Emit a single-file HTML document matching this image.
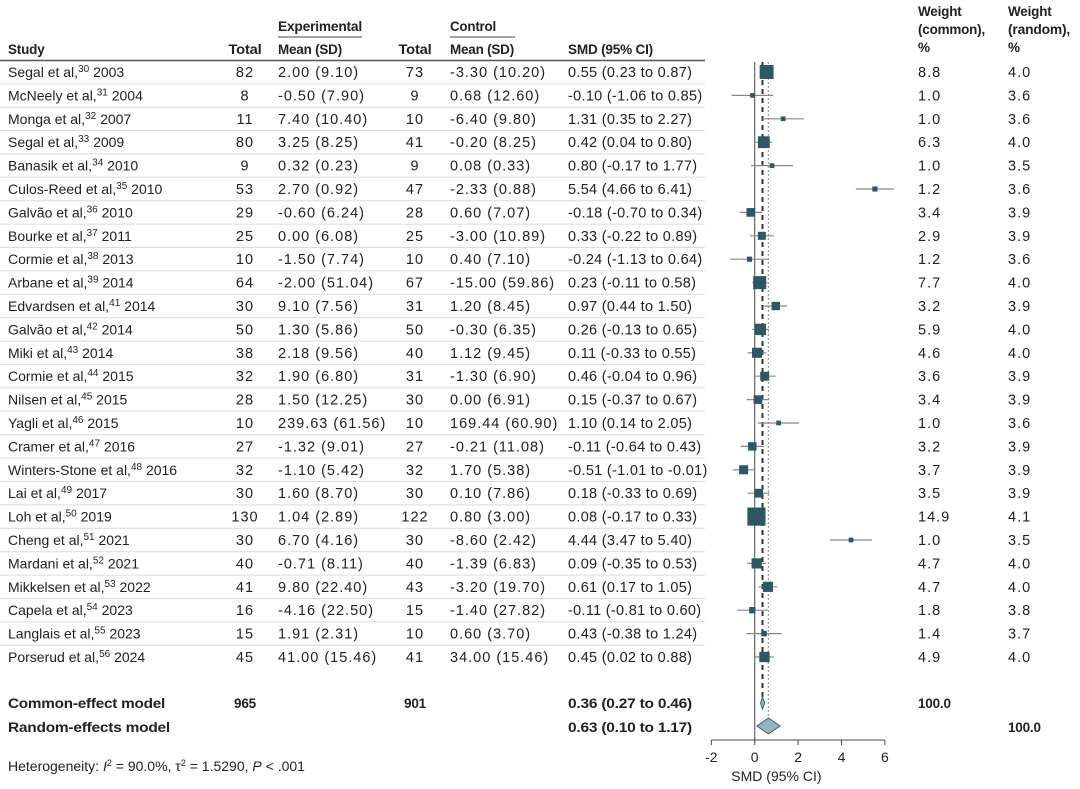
<!DOCTYPE html>
<html><head><meta charset="utf-8"><style>
html,body{margin:0;padding:0;background:#fff}
svg{display:block}
text{font-family:"Liberation Sans",sans-serif;font-size:14px;fill:#222}
.n{font-size:14.5px;letter-spacing:1px}
.s{font-size:14.5px;letter-spacing:0.3px}
.h{font-weight:bold;font-size:13.5px;letter-spacing:-0.2px}
</style></head><body>
<svg id="c" width="1080" height="789" viewBox="0 0 1080 789" xmlns="http://www.w3.org/2000/svg">
<g id="hdr">
<text x="278" y="31" class="h" textLength="84" lengthAdjust="spacingAndGlyphs">Experimental</text>
<line x1="278" y1="37" x2="362" y2="37" stroke="#444"/>
<text x="450" y="31" class="h" textLength="46" lengthAdjust="spacingAndGlyphs">Control</text>
<line x1="450" y1="37" x2="515" y2="37" stroke="#444"/>
<text x="8" y="54" class="h">Study</text>
<text x="245" y="54" class="h" text-anchor="middle" textLength="33" lengthAdjust="spacingAndGlyphs">Total</text>
<text x="278" y="54" class="h" textLength="64" lengthAdjust="spacingAndGlyphs">Mean (SD)</text>
<text x="415" y="54" class="h" text-anchor="middle" textLength="33" lengthAdjust="spacingAndGlyphs">Total</text>
<text x="450" y="54" class="h" textLength="64" lengthAdjust="spacingAndGlyphs">Mean (SD)</text>
<text x="568" y="54" class="h" textLength="85" lengthAdjust="spacingAndGlyphs">SMD (95% CI)</text>
<text x="918" y="16" class="h">Weight</text>
<text x="918" y="34" class="h" textLength="67" lengthAdjust="spacingAndGlyphs">(common),</text>
<text x="918" y="52" class="h">%</text>
<text x="1008" y="16" class="h">Weight</text>
<text x="1008" y="34" class="h" textLength="62" lengthAdjust="spacingAndGlyphs">(random),</text>
<text x="1008" y="52" class="h">%</text>
<line x1="0" y1="60.5" x2="705" y2="60.5" stroke="#555" stroke-width="1.5"/>
</g>
<g id="rows"></g>
<g id="plot"></g>
<text x="8" y="708" class="h" textLength="157" lengthAdjust="spacingAndGlyphs">Common-effect model</text>
<text x="245" y="708" class="h" text-anchor="middle">965</text>
<text x="415" y="708" class="h" text-anchor="middle">901</text>
<text x="568" y="708" class="h" textLength="124" lengthAdjust="spacingAndGlyphs">0.36 (0.27 to 0.46)</text>
<text x="918" y="708" class="h">100.0</text>
<text x="8" y="732" class="h" textLength="162" lengthAdjust="spacingAndGlyphs">Random-effects model</text>
<text x="568" y="732" class="h" textLength="124" lengthAdjust="spacingAndGlyphs">0.63 (0.10 to 1.17)</text>
<text x="1008" y="732" class="h">100.0</text>
<text x="8" y="771" font-size="13.5">Heterogeneity: <tspan font-style="italic">I</tspan><tspan dy="-5" font-size="9">2</tspan><tspan dy="5"> = 90.0%, τ</tspan><tspan dy="-5" font-size="9">2</tspan><tspan dy="5"> = 1.5290, </tspan><tspan font-style="italic">P</tspan> &lt; .001</text>
</svg>
<script>
const studies=["Segal et al,|30| 2003","McNeely et al,|31| 2004","Monga et al,|32| 2007","Segal et al,|33| 2009","Banasik et al,|34| 2010","Culos-Reed et al,|35| 2010","Galvão et al,|36| 2010","Bourke et al,|37| 2011","Cormie et al,|38| 2013","Arbane et al,|39| 2014","Edvardsen et al,|41| 2014","Galvão et al,|42| 2014","Miki et al,|43| 2014","Cormie et al,|44| 2015","Nilsen et al,|45| 2015","Yagli et al,|46| 2015","Cramer et al,|47| 2016","Winters-Stone et al,|48| 2016","Lai et al,|49| 2017","Loh et al,|50| 2019","Cheng et al,|51| 2021","Mardani et al,|52| 2021","Mikkelsen et al,|53| 2022","Capela et al,|54| 2023","Langlais et al,|55| 2023","Porserud et al,|56| 2024"];
const expN=[82,8,11,80,9,53,29,25,10,64,30,50,38,32,28,10,27,32,30,130,30,40,41,16,15,45];
const expMean=["2.00 (9.10)","-0.50 (7.90)","7.40 (10.40)","3.25 (8.25)","0.32 (0.23)","2.70 (0.92)","-0.60 (6.24)","0.00 (6.08)","-1.50 (7.74)","-2.00 (51.04)","9.10 (7.56)","1.30 (5.86)","2.18 (9.56)","1.90 (6.80)","1.50 (12.25)","239.63 (61.56)","-1.32 (9.01)","-1.10 (5.42)","1.60 (8.70)","1.04 (2.89)","6.70 (4.16)","-0.71 (8.11)","9.80 (22.40)","-4.16 (22.50)","1.91 (2.31)","41.00 (15.46)"];
const ctlN=[73,9,10,41,9,47,28,25,10,67,31,50,40,31,30,10,27,32,30,122,30,40,43,15,10,41];
const ctlMean=["-3.30 (10.20)","0.68 (12.60)","-6.40 (9.80)","-0.20 (8.25)","0.08 (0.33)","-2.33 (0.88)","0.60 (7.07)","-3.00 (10.89)","0.40 (7.10)","-15.00 (59.86)","1.20 (8.45)","-0.30 (6.35)","1.12 (9.45)","-1.30 (6.90)","0.00 (6.91)","169.44 (60.90)","-0.21 (11.08)","1.70 (5.38)","0.10 (7.86)","0.80 (3.00)","-8.60 (2.42)","-1.39 (6.83)","-3.20 (19.70)","-1.40 (27.82)","0.60 (3.70)","34.00 (15.46)"];
const smd=[0.55,-0.10,1.31,0.42,0.80,5.54,-0.18,0.33,-0.24,0.23,0.97,0.26,0.11,0.46,0.15,1.10,-0.11,-0.51,0.18,0.08,4.44,0.09,0.61,-0.11,0.43,0.45];
const lo=[0.23,-1.06,0.35,0.04,-0.17,4.66,-0.70,-0.22,-1.13,-0.11,0.44,-0.13,-0.33,-0.04,-0.37,0.14,-0.64,-1.01,-0.33,-0.17,3.47,-0.35,0.17,-0.81,-0.38,0.02];
const hi=[0.87,0.85,2.27,0.80,1.77,6.41,0.34,0.89,0.64,0.58,1.50,0.65,0.55,0.96,0.67,2.05,0.43,-0.01,0.69,0.33,5.40,0.53,1.05,0.60,1.24,0.88];
const wCommon=[8.8,1.0,1.0,6.3,1.0,1.2,3.4,2.9,1.2,7.7,3.2,5.9,4.6,3.6,3.4,1.0,3.2,3.7,3.5,14.9,1.0,4.7,4.7,1.8,1.4,4.9];
const wRandom=[4.0,3.6,3.6,4.0,3.5,3.6,3.9,3.9,3.6,4.0,3.9,4.0,4.0,3.9,3.9,3.6,3.9,3.9,3.9,4.1,3.5,4.0,4.0,3.8,3.7,4.0];
const xTicks=[-2,0,2,4,6];
const common=[0.36,0.27,0.46];
const random=[0.63,0.10,1.17];

const NS="http://www.w3.org/2000/svg";
const X=v=>754.7+v*21.7;
const rowY=i=>72+i*23.4;
function mk(tag,attrs,parent,txt){const e=document.createElementNS(NS,tag);for(const k in attrs)e.setAttribute(k,attrs[k]);if(txt!==undefined)e.textContent=txt;parent.appendChild(e);return e;}
const rows=document.getElementById('rows'),plot=document.getElementById('plot');
const f2=v=>(v<0?"-":"")+Math.abs(v).toFixed(2);
studies.forEach((s,i)=>{
 const y=rowY(i)+5;
 const g=mk('g',{},rows);
 
 
 const p=s.split('|');
 const t=mk('text',{x:8,y:y},g);
 mk('tspan',{},t,p[0]);mk('tspan',{dy:-5,'font-size':10},t,p[1]);mk('tspan',{dy:5},t," "+p[2].trim());
 mk('text',{x:245,y:y,class:'n','text-anchor':'middle'},g,expN[i]);
 mk('text',{x:278,y:y,class:'n'},g,expMean[i]);
 mk('text',{x:415,y:y,class:'n','text-anchor':'middle'},g,ctlN[i]);
 mk('text',{x:450,y:y,class:'n'},g,ctlMean[i]);
 mk('text',{x:568,y:y,class:'s'},g,f2(smd[i])+" ("+f2(lo[i])+" to "+f2(hi[i])+")");
 mk('text',{x:918,y:y,class:'n'},g,wCommon[i].toFixed(1));
 mk('text',{x:1008,y:y,class:'n'},g,wRandom[i].toFixed(1));
 if(i<studies.length-1) mk('line',{x1:0,x2:705,y1:rowY(i)+11.7,y2:rowY(i)+11.7,stroke:'#dcdcdc'},g);
});
mk('line',{x1:X(0),x2:X(0),y1:62,y2:740,stroke:'#666','stroke-width':1.2},plot);
const dl=mk('line',{x1:X(common[0]),x2:X(common[0]),y1:62,y2:700,stroke:'#333','stroke-width':2,'stroke-dasharray':'5,4'},plot);

const rl=mk('line',{x1:X(random[0]),x2:X(random[0]),y1:62,y2:720,stroke:'#999','stroke-width':1.2,'stroke-dasharray':'2,2'},plot);

smd.forEach((v,i)=>{
 const y=rowY(i);
 const l=mk('line',{x1:X(lo[i]),x2:X(hi[i]),y1:y,y2:y,stroke:'#888','stroke-width':1.2},plot);
 
 
 const s=4.7*Math.sqrt(wCommon[i]);
 const r=mk('rect',{x:X(v)-s/2,y:y-s/2,width:s,height:s,fill:'#2d5767'},plot);
 
 
});
function diamond(m,y,h,name){const d=mk('polygon',{points:`${X(m[1])},${y} ${X(m[0])},${y-h} ${X(m[2])},${y} ${X(m[0])},${y+h}`,fill:'#8fb4c4',stroke:'#3a6273','stroke-width':1},plot);
 
 }
diamond(common,703,6,'common-effect-diamond');
diamond(random,726,8,'random-effect-diamond');
const ax=mk('g',{},plot);


mk('line',{x1:X(xTicks[0]),x2:X(xTicks[xTicks.length-1]),y1:740,y2:740,stroke:'#444'},ax);
xTicks.forEach(t=>{mk('line',{x1:X(t),x2:X(t),y1:740,y2:745,stroke:'#444'},ax);
 mk('text',{x:X(t),y:762,'text-anchor':'middle'},ax,t<0?"-"+Math.abs(t):t);});
const xt=mk('text',{x:X(1),y:781,'text-anchor':'middle'},ax,'SMD (95% CI)');

</script>
</body></html>
